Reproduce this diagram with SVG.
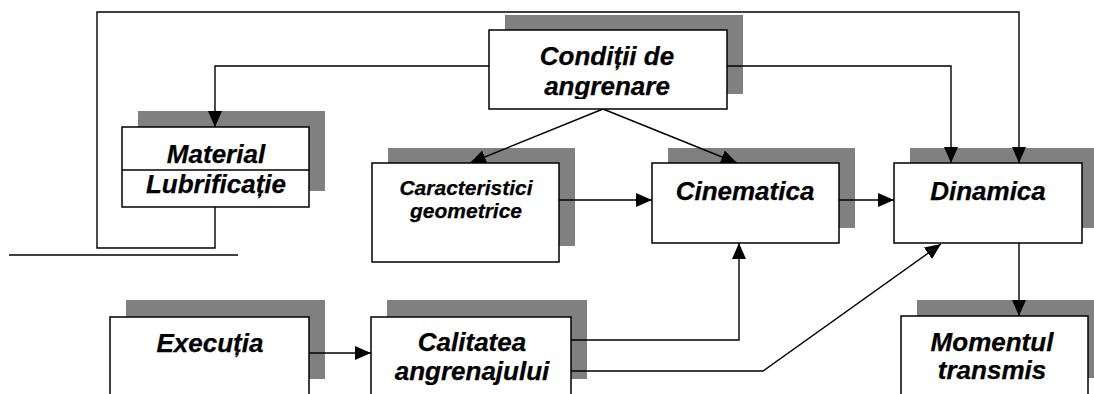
<svg xmlns="http://www.w3.org/2000/svg" width="1094" height="394" viewBox="0 0 1094 394">
<style>
.sh{fill:#808080;stroke:none}
.bx{fill:#fff;stroke:#000;stroke-width:1.5}
.cn{fill:none;stroke:#000;stroke-width:1.4}
.t{font-family:"Liberation Sans",Arial,sans-serif;font-weight:bold;font-style:italic;font-size:26px;fill:#000;stroke:#000;stroke-width:0.25;text-anchor:middle}
.ts{font-size:21px}
</style>
<defs>
<marker id="ah" markerUnits="userSpaceOnUse" markerWidth="16" markerHeight="14" refX="16" refY="7" orient="auto">
<path d="M0,0 L16,7 L0,14 z" fill="#000"/>
</marker>
<clipPath id="c1"><rect x="0" y="0" width="1094" height="99"/></clipPath>
<clipPath id="c2"><rect x="0" y="0" width="1094" height="385"/></clipPath>
</defs>
<rect width="1094" height="394" fill="#fff"/>
<g id="shadows">
<rect class="sh" x="505" y="15" width="238" height="79"/>
<rect class="sh" x="138" y="111" width="187" height="80"/>
<rect class="sh" x="388" y="148" width="187" height="98"/>
<rect class="sh" x="668" y="148" width="187" height="80"/>
<rect class="sh" x="910" y="148" width="188" height="80"/>
<rect class="sh" x="126" y="300" width="199" height="79"/>
<rect class="sh" x="387" y="300" width="200" height="79"/>
<rect class="sh" x="917" y="300" width="187" height="78"/>
</g>
<g id="connectors">
<path class="cn" d="M489,66 H215 V127" marker-end="url(#ah)"/>
<path class="cn" d="M727,66 H951 V163" marker-end="url(#ah)"/>
<path class="cn" d="M215,207 V248 H97 V12 H1019 V163" marker-end="url(#ah)"/>
<path class="cn" d="M603,109 L470,163" marker-end="url(#ah)"/>
<path class="cn" d="M603,109 L737,163" marker-end="url(#ah)"/>
<path class="cn" d="M559,200 H652" marker-end="url(#ah)"/>
<path class="cn" d="M839,200 H894" marker-end="url(#ah)"/>
<path class="cn" d="M1019,243 V316" marker-end="url(#ah)"/>
<path class="cn" d="M309,353 H371" marker-end="url(#ah)"/>
<path class="cn" d="M571,340 H739 V243" marker-end="url(#ah)"/>
<path class="cn" d="M571,371 H763 L941,244" marker-end="url(#ah)"/>
<path class="cn" d="M9,255 H238"/>
</g>
<g id="conditii">
<rect class="bx" x="489" y="30" width="238" height="79"/>
<g clip-path="url(#c1)">
<text class="t" x="607" y="65">Condiții de</text>
<text class="t" x="607" y="95">angrenare</text>
</g>
</g>
<g id="material">
<rect class="bx" x="122" y="127" width="187" height="80"/>
<line class="bx" x1="122" y1="170" x2="309" y2="170"/>
<text class="t" x="216" y="163">Material</text>
<text class="t" x="216" y="193">Lubrificație</text>
</g>
<g id="caracteristici">
<rect class="bx" x="372" y="163" width="187" height="99"/>
<text class="t ts" x="466" y="195">Caracteristici</text>
<text class="t ts" x="466" y="218">geometrice</text>
</g>
<g id="cinematica">
<rect class="bx" x="652" y="163" width="187" height="80"/>
<text class="t" x="745" y="200">Cinematica</text>
</g>
<g id="dinamica">
<rect class="bx" x="894" y="163" width="188" height="80"/>
<text class="t" x="988" y="200">Dinamica</text>
</g>
<g id="executia">
<rect class="bx" x="110" y="317" width="199" height="80"/>
<text class="t" x="210" y="352">Execuția</text>
</g>
<g id="calitatea">
<rect class="bx" x="371" y="317" width="200" height="80"/>
<g clip-path="url(#c2)">
<text class="t" x="472" y="351">Calitatea</text>
<text class="t" x="472" y="380">angrenajului</text>
</g>
</g>
<g id="momentul">
<rect class="bx" x="901" y="316" width="187" height="80"/>
<text class="t" x="992" y="351">Momentul</text>
<text class="t" x="992" y="379">transmis</text>
</g>
</svg>
